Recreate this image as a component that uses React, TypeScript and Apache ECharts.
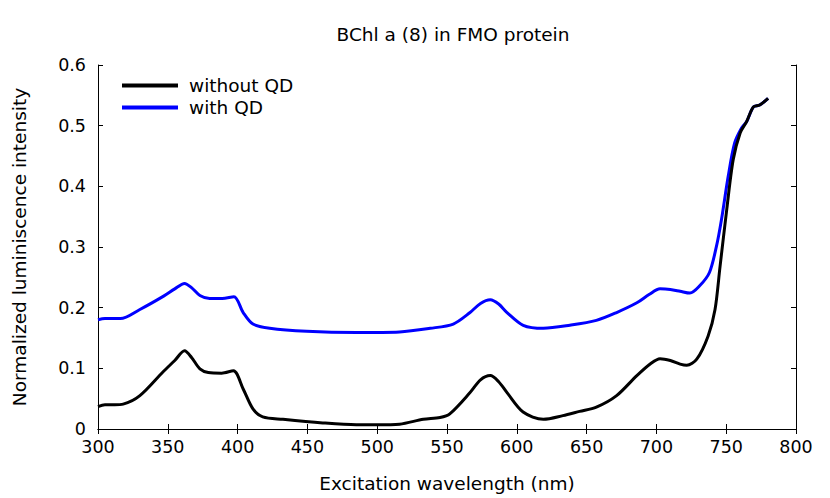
import React, { useEffect, useRef } from "react";
import * as echarts from "echarts";

const title = "BChl a (8) in FMO protein";
const xName = "Excitation wavelength (nm)";
const yName = "Normalized luminiscence intensity";

const wlWithout = [300, 305, 312, 318, 330, 346.5, 355, 362, 367, 373, 379, 388.6, 397, 404, 411, 418, 432.5, 461, 485, 500, 516, 533, 545, 552, 566.5, 574, 581, 587, 593, 604.5, 619, 633, 645, 657, 671.5, 686, 696, 702.6, 710, 717, 721.7, 728.9, 737, 742, 745.6, 750.4, 755, 760, 764.7, 769.5, 774, 780];
const valWithout = [0.037, 0.04, 0.04, 0.041, 0.055, 0.094, 0.113, 0.129, 0.118, 0.099, 0.093, 0.092, 0.096, 0.066, 0.033, 0.02, 0.016, 0.01, 0.007, 0.007, 0.008, 0.016, 0.019, 0.025, 0.06, 0.081, 0.088, 0.078, 0.06, 0.028, 0.016, 0.022, 0.029, 0.036, 0.055, 0.088, 0.108, 0.116, 0.113, 0.107, 0.105, 0.115, 0.153, 0.197, 0.268, 0.362, 0.444, 0.488, 0.507, 0.531, 0.534, 0.545];

const wlWith = [300, 305, 316, 330, 347, 355, 362, 367, 373, 380, 389, 397.4, 404, 411, 423, 449.5, 485, 516, 538, 554.5, 566.5, 574, 581, 587, 593, 604.6, 619, 638, 657, 671.5, 686, 695, 702.6, 710, 717, 724, 731, 738, 743, 746.6, 751.4, 756, 761, 764.7, 769.5, 774, 780];
const valWith = [0.18, 0.182, 0.182, 0.197, 0.219, 0.231, 0.24, 0.233, 0.22, 0.215, 0.215, 0.218, 0.192, 0.173, 0.166, 0.161, 0.159, 0.16, 0.166, 0.173, 0.192, 0.207, 0.213, 0.206, 0.192, 0.171, 0.166, 0.171, 0.179, 0.192, 0.208, 0.222, 0.231, 0.23, 0.227, 0.224, 0.236, 0.258, 0.301, 0.345, 0.416, 0.471, 0.496, 0.507, 0.531, 0.534, 0.545];

const xTicks = [300, 350, 400, 450, 500, 550, 600, 650, 700, 750, 800];
const yTicks = [0, 0.1, 0.2, 0.3, 0.4, 0.5, 0.6];

const FONT = "DejaVu Sans";

export default function App() {
  const ref = useRef<HTMLDivElement>(null);
  useEffect(() => {
    if (!ref.current) return;
    const chart = echarts.init(ref.current, undefined, { renderer: "svg" });
    const axisLineStyle = { color: "#000", width: 1 };
    const tickStyle = { show: true, inside: true, length: 5, lineStyle: { color: "#000", width: 1 } };
    chart.setOption({
      animation: false,
      backgroundColor: "#fff",
      title: {
        text: title,
        left: 448,
        textAlign: "center",
        top: 20,
        textStyle: { fontFamily: FONT, fontSize: 18.5, fontWeight: "normal", color: "#000" },
      },
      legend: {
        orient: "vertical",
        left: 117,
        top: 71,
        itemWidth: 56,
        itemHeight: 4,
        itemGap: 3,
        icon: "rect",
        textStyle: { fontFamily: FONT, fontSize: 18.5, lineHeight: 18, color: "#000", padding: [0, 0, 0, 6] },
        data: ["without QD", "with QD"],
      },
      grid: { left: 98, right: 34, top: 65, bottom: 68, containLabel: false },
      xAxis: [
        {
          type: "value",
          min: xTicks[0],
          max: xTicks[xTicks.length - 1],
          interval: 50,
          name: xName,
          nameLocation: "middle",
          nameGap: 45,
          nameTextStyle: { fontFamily: FONT, fontSize: 18.5, color: "#000" },
          axisLine: { show: true, lineStyle: axisLineStyle },
          axisTick: tickStyle,
          axisLabel: { fontFamily: FONT, fontSize: 17.5, color: "#000", margin: 9, formatter: (v: number) => String(v) },
          splitLine: { show: false },
        },
        {
          type: "value",
          position: "top",
          min: xTicks[0],
          max: xTicks[xTicks.length - 1],
          interval: 50,
          axisLine: { show: true, lineStyle: axisLineStyle },
          axisTick: tickStyle,
          axisLabel: { show: false },
          splitLine: { show: false },
        },
      ],
      yAxis: [
        {
          type: "value",
          min: yTicks[0],
          max: yTicks[yTicks.length - 1],
          interval: 0.1,
          name: yName,
          nameLocation: "middle",
          nameGap: 69,
          nameTextStyle: { fontFamily: FONT, fontSize: 18.5, color: "#000" },
          axisLine: { show: true, lineStyle: axisLineStyle },
          axisTick: tickStyle,
          axisLabel: {
            fontFamily: FONT,
            fontSize: 17.5,
            color: "#000",
            margin: 12,
            formatter: (v: number) => (v === 0 ? "0" : String(Math.round(v * 10) / 10)),
          },
          splitLine: { show: false },
        },
        {
          type: "value",
          position: "right",
          min: yTicks[0],
          max: yTicks[yTicks.length - 1],
          interval: 0.1,
          axisLine: { show: true, lineStyle: axisLineStyle },
          axisTick: tickStyle,
          axisLabel: { show: false },
          splitLine: { show: false },
        },
      ],
      series: [
        {
          name: "without QD",
          type: "line",
          data: wlWithout.map((x, i) => [x, valWithout[i]]),
          smooth: 0.3,
          showSymbol: false,
          symbol: "none",
          lineStyle: { color: "#000", width: 3 },
          itemStyle: { color: "#000" },
          z: 3,
        },
        {
          name: "with QD",
          type: "line",
          data: wlWith.map((x, i) => [x, valWith[i]]),
          smooth: 0.3,
          showSymbol: false,
          symbol: "none",
          lineStyle: { color: "#0000ff", width: 3 },
          itemStyle: { color: "#0000ff" },
          z: 2,
        },
      ],
    });
    return () => chart.dispose();
  }, []);
  return <div ref={ref} style={{ width: 830, height: 498, position: "absolute", left: 0, top: 0 }} />;
}
